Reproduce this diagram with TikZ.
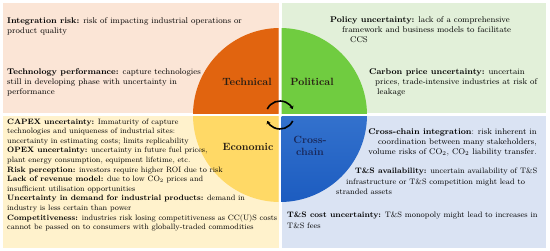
\documentclass[tikz,border=0pt]{standalone}
\usetikzlibrary{arrows.meta}
\definecolor{techbg}{RGB}{251,229,214}
\definecolor{polbg}{RGB}{226,240,217}
\definecolor{econbg}{RGB}{255,242,204}
\definecolor{chainbg}{RGB}{218,227,243}
\definecolor{techfill}{RGB}{225,100,15}
\definecolor{polfill}{RGB}{112,204,64}
\definecolor{econfill}{RGB}{255,217,102}
\definecolor{chaintop}{RGB}{75,135,218}
\definecolor{chainbot}{RGB}{28,92,192}
\definecolor{labeltext}{RGB}{40,30,20}
\definecolor{navytext}{RGB}{25,40,90}
\tikzset{
  desc/.style={anchor=north west, inner sep=0pt, align=left, font=\fontsize{8.3}{10.4}\selectfont},
  smalldesc/.style={desc, font=\fontsize{7.9}{10.2}\selectfont},
  sector/.style={inner sep=0pt, text=labeltext, font=\fontsize{10.5}{12.5}\selectfont\bfseries},
}

\begin{document}
\begin{tikzpicture}[x=1pt, y=-1pt]
  \useasboundingbox (0,0) rectangle (550,251);
  \coordinate (hub) at (280,115);

  % quarter panels
  \fill[techbg] (3,3) rectangle (278.5,113.5);
  \fill[polbg] (281.5,3) rectangle (546,113.5);
  \fill[econbg] (3,116.5) rectangle (278.5,248);
  \fill[chainbg] (281.5,116.5) rectangle (546,248);

  % the four sectors of the disc
  \begin{scope}
    \clip (3,3) rectangle (278.5,113.5);
    \fill[techfill] (hub) circle (87);
  \end{scope}
  \begin{scope}
    \clip (281.5,3) rectangle (546,113.5);
    \fill[polfill] (hub) circle (87);
  \end{scope}
  \begin{scope}
    \clip (3,116.5) rectangle (278.5,248);
    \fill[econfill] (hub) circle (87);
  \end{scope}
  \begin{scope}
    \clip (281.5,116.5) rectangle (546,248);
    \shade[top color=chaintop, bottom color=chainbot] (hub) circle (87);
  \end{scope}

  % circular arrows in the middle
  \draw[line width=1.6pt, -{Stealth[length=3pt,width=4.5pt]}]
    ([shift={(205:14)}]hub) arc[start angle=205, end angle=335, radius=14];
  \draw[line width=1.6pt, -{Stealth[length=3pt,width=4.5pt]}]
    ([shift={(25:14)}]hub) arc[start angle=25, end angle=155, radius=14];

  % sector names
  \node[sector] (technical) at (247,82) {Technical};
  \node[sector] (political) at (312,82) {Political};
  \node[sector] (economic) at (248,147) {Economic};
  \node[sector, text=navytext, align=center] (crosschain) at (310,146) {Cross-\\chain};

  % technical
  \node[desc] (integration) at (7,17) {\textbf{Integration risk:} risk of impacting industrial operations or\\product quality};
  \node[desc] (techperf) at (7,68) {\textbf{Technology performance:} capture technologies\\still in developing phase with uncertainty in\\performance};

  % political
  \node[desc] (policy) at (330,16) {\textbf{Policy uncertainty:} lack of a comprehensive\\\hspace*{12pt}framework and business models to facilitate\\\hspace*{20pt}CCS};
  \node[desc] (carbonprice) at (369,68) {\textbf{Carbon price uncertainty:} uncertain\\\hspace*{6pt}prices, trade-intensive industries at risk of\\\hspace*{8pt}leakage};

  % economic
  \node[desc, font=\fontsize{7.75}{9.6}\selectfont] (econlist) at (7,118.5) {\textbf{CAPEX uncertainty:} Immaturity of capture\\technologies and uniqueness of industrial sites:\\uncertainty in estimating costs; limits replicability\\\textbf{OPEX uncertainty:} uncertainty in future fuel prices,\\plant energy consumption, equipment lifetime, etc.\\\textbf{Risk perception:} investors require higher ROI due to risk\\\textbf{Lack of revenue model:} due to low CO$_2$ prices and\\insufficient utilisation opportunities\\\textbf{Uncertainty in demand for industrial products:} demand in\\industry is less certain than power\\\textbf{Competitiveness:} industries risk losing competitiveness as CC(U)S costs\\cannot be passed on to consumers with globally-traded commodities};

  % cross-chain
  \node[desc, anchor=north east, align=right] (integrationchain) at (537,128) {\textbf{Cross-chain integration}: risk inherent in\\coordination between many stakeholders,\\volume risks of CO$_2$, CO$_2$ liability transfer.};
  \node[smalldesc] (tsavail) at (336,168) {\hspace*{19pt}\textbf{T\&S availability:} uncertain availability of T\&S\\\hspace*{10pt}infrastructure or T\&S competition might lead to\\stranded assets};
  \node[smalldesc] (tscost) at (287,212) {\textbf{T\&S cost uncertainty:} T\&S monopoly might lead to increases in\\T\&S fees};
\end{tikzpicture}
\end{document}
